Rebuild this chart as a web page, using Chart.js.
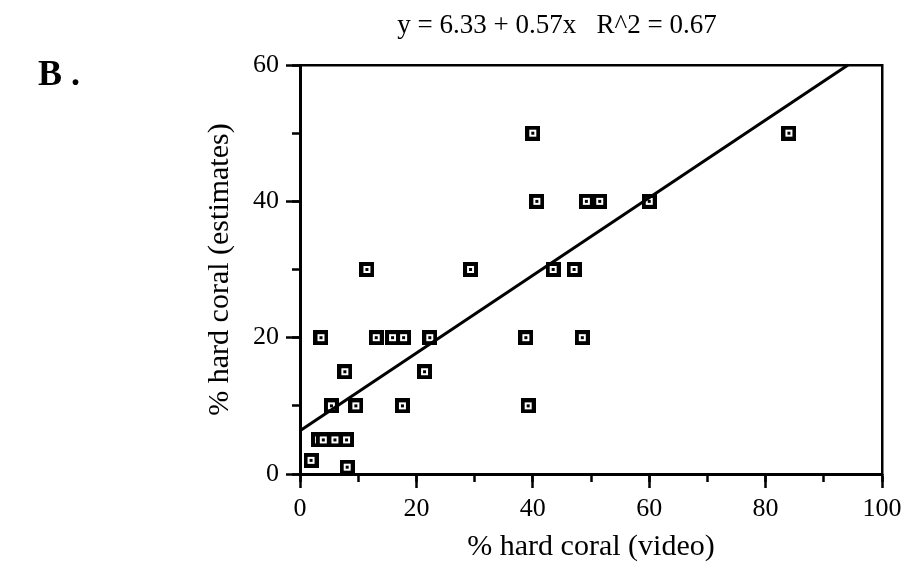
<!DOCTYPE html>
<html>
<head>
<meta charset="utf-8">
<script src="https://cdn.jsdelivr.net/npm/chart.js@4/dist/chart.umd.min.js"></script>
<style>
html,body{margin:0;padding:0;background:#fff;}
#wrap{position:relative;width:905px;height:569px;background:#fff;}
#eq{position:absolute;left:290px;top:9px;width:534px;text-align:center;font-family:"Liberation Serif",serif;font-size:27px;color:#000;white-space:pre;}
#lab{position:absolute;left:38px;top:52px;font-family:"Liberation Serif",serif;font-size:36px;font-weight:bold;color:#000;}
canvas{position:absolute;left:0;top:0;}
</style>
</head>
<body>
<div id="wrap">
<canvas id="c" width="905" height="569"></canvas>
<div id="eq">y = 6.33 + 0.57x   R^2 = 0.67</div>
<div id="lab">B .</div>
</div>
<script>
// Data
const videoCover = [84, 40, 40.7, 49.2, 51.5, 60, 11.5, 29.3, 43.5, 47.1, 3.6, 13.1, 15.9, 17.8, 22.3, 38.8, 48.5, 7.7, 21.4, 5.4, 9.6, 17.6, 39.2, 3.2, 4.0, 6.0, 8.0, 1.9, 8.1];
const estimateCover = [50, 50, 40, 40, 40, 40, 30, 30, 30, 30, 20, 20, 20, 20, 20, 20, 20, 15, 15, 10, 10, 10, 10, 5, 5, 5, 5, 2, 1];
const trendX = [0, 94.16];
const trendY = [6.33, 60];
const xTickStep = 20;
const yTickStep = 20;
const minorStep = 10;

const FONT = 'Liberation Serif';

function makeMarker() {
  const c = document.createElement('canvas');
  c.width = 15; c.height = 15;
  const g = c.getContext('2d');
  g.fillStyle = '#000'; g.fillRect(0, 0, 15, 15);
  g.fillStyle = '#fff'; g.fillRect(4, 4, 7, 7);
  g.fillStyle = '#000'; g.fillRect(6, 6, 3, 3);
  return c;
}
const marker = makeMarker();

const points = videoCover.map((v, i) => ({x: v, y: estimateCover[i]}));
const trend = trendX.map((v, i) => ({x: v, y: trendY[i]}));

new Chart(document.getElementById('c'), {
  type: 'scatter',
  data: {
    datasets: [
      {
        label: 'fit',
        data: trend,
        showLine: true,
        borderColor: '#000',
        borderWidth: 3,
        pointRadius: 0,
        pointHoverRadius: 0,
        fill: false,
        clip: false
      },
      {
        label: 'sites',
        data: points,
        pointStyle: marker,
        pointRadius: 7,
        clip: false
      }
    ]
  },
  options: {
    responsive: false,
    animation: false,
    devicePixelRatio: 1,
    layout: {padding: {left: 200, top: 65, right: 23, bottom: 0}},
    plugins: {legend: {display: false}, tooltip: {enabled: false}, title: {display: false}},
    scales: {
      x: {
        type: 'linear', position: 'bottom', min: 0, max: 100, weight: 1,
        ticks: {stepSize: xTickStep, color: '#000', font: {family: FONT, size: 26}, padding: 6, maxRotation: 0, autoSkip: false},
        grid: {drawOnChartArea: false, tickLength: 14, tickColor: '#000', tickWidth: 2.5},
        border: {display: true, color: '#000', width: 3},
        title: {display: true, text: '% hard coral (video)', color: '#000', font: {family: FONT, size: 30}, padding: {top: 0, bottom: 4}},
        afterFit(s) { s.height = 95; s.paddingLeft = 0; s.paddingRight = 0; }
      },
      xMinor: {
        type: 'linear', position: 'bottom', min: 0, max: 100, weight: 0,
        ticks: {display: false, stepSize: minorStep},
        grid: {drawOnChartArea: false, tickLength: 8, tickColor: '#000', tickWidth: 2.5},
        border: {display: false},
        afterFit(s) { s.height = 0; s.paddingLeft = 0; s.paddingRight = 0; }
      },
      xTop: {
        type: 'linear', position: 'top', min: 0, max: 100,
        ticks: {display: false},
        grid: {drawOnChartArea: false, drawTicks: false},
        border: {display: true, color: '#000', width: 2.5},
        afterFit(s) { s.height = 0; s.paddingLeft = 0; s.paddingRight = 0; }
      },
      y: {
        type: 'linear', position: 'left', min: 0, max: 60, weight: 1,
        ticks: {stepSize: yTickStep, color: '#000', font: {family: FONT, size: 26}, padding: 7},
        grid: {drawOnChartArea: false, tickLength: 14, tickColor: '#000', tickWidth: 2.5},
        border: {display: true, color: '#000', width: 3},
        title: {display: true, text: '% hard coral (estimates)', color: '#000', font: {family: FONT, size: 30}, padding: {top: 2, bottom: 0}},
        afterFit(s) { s.width = 100; }
      },
      yMinor: {
        type: 'linear', position: 'left', min: 0, max: 60, weight: 0,
        ticks: {display: false, stepSize: minorStep},
        grid: {drawOnChartArea: false, tickLength: 8, tickColor: '#000', tickWidth: 2.5},
        border: {display: false},
        afterFit(s) { s.width = 0; }
      },
      yRight: {
        type: 'linear', position: 'right', min: 0, max: 60,
        ticks: {display: false},
        grid: {drawOnChartArea: false, drawTicks: false},
        border: {display: true, color: '#000', width: 2.5},
        afterFit(s) { s.width = 0; }
      }
    }
  }
});
</script>
</body>
</html>
